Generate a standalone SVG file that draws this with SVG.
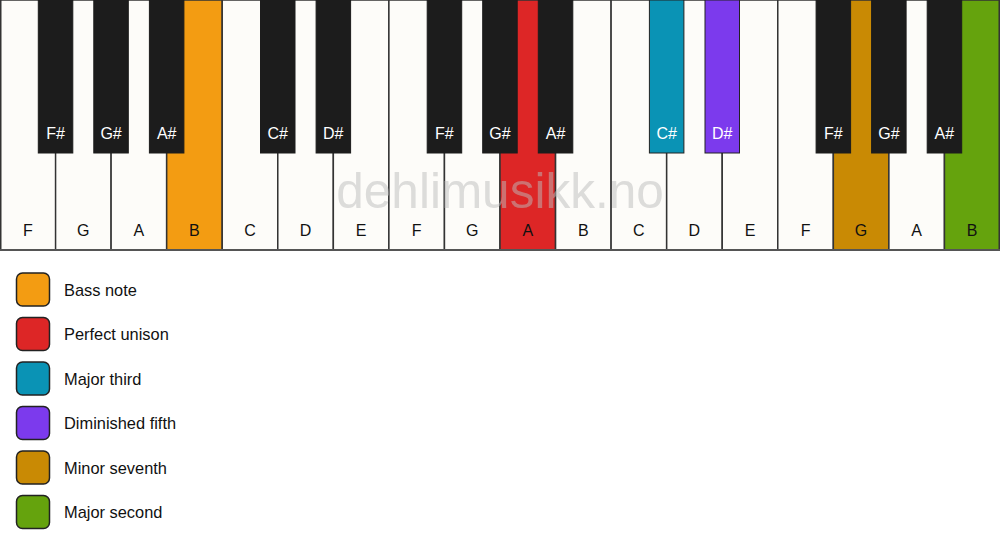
<svg xmlns="http://www.w3.org/2000/svg" width="1000" height="550" viewBox="0 0 1000 550">
<style>
.w{fill:#fdfcf9;stroke:#333;stroke-width:1.5}
.b{fill:#1c1c1c;stroke:#1c1c1c;stroke-width:1}
.t{font-family:"Liberation Sans",Arial,sans-serif;font-size:16px;text-anchor:middle}
.wt{fill:#111}
.bt{fill:#fff}
.lg{stroke:#222;stroke-width:1.5}
.lt{font-family:"Liberation Sans",Arial,sans-serif;font-size:16.4px;fill:#111}
</style>
<rect width="1000" height="550" fill="#fff"/>
<g id="white-keys">
<rect class="w" x="0.75" y="0" width="55.56" height="250"/>
<rect class="w" x="55.56" y="0" width="55.56" height="250"/>
<rect class="w" x="111.11" y="0" width="55.56" height="250"/>
<rect class="w" x="166.67" y="0" width="55.56" height="250" style="fill:#f39c12"/>
<rect class="w" x="222.22" y="0" width="55.56" height="250"/>
<rect class="w" x="277.78" y="0" width="55.56" height="250"/>
<rect class="w" x="333.33" y="0" width="55.56" height="250"/>
<rect class="w" x="388.89" y="0" width="55.56" height="250"/>
<rect class="w" x="444.44" y="0" width="55.56" height="250"/>
<rect class="w" x="500" y="0" width="55.56" height="250" style="fill:#dd2626"/>
<rect class="w" x="555.56" y="0" width="55.56" height="250"/>
<rect class="w" x="611.11" y="0" width="55.56" height="250"/>
<rect class="w" x="666.67" y="0" width="55.56" height="250"/>
<rect class="w" x="722.22" y="0" width="55.56" height="250"/>
<rect class="w" x="777.78" y="0" width="55.56" height="250"/>
<rect class="w" x="833.33" y="0" width="55.56" height="250" style="fill:#c98a04"/>
<rect class="w" x="888.89" y="0" width="55.56" height="250"/>
<rect class="w" x="944.44" y="0" width="54.8" height="250" style="fill:#65a30d"/>
<line x1="0" y1="250" x2="1000" y2="250" stroke="#555" stroke-width="2"/>
<g class="t wt">
<text x="27.8" y="236">F</text><text x="83.3" y="236">G</text><text x="138.9" y="236">A</text><text x="194.4" y="236">B</text>
<text x="250" y="236">C</text><text x="305.6" y="236">D</text><text x="361.1" y="236">E</text><text x="416.7" y="236">F</text>
<text x="472.2" y="236">G</text><text x="527.8" y="236">A</text><text x="583.3" y="236">B</text><text x="638.9" y="236">C</text>
<text x="694.4" y="236">D</text><text x="750" y="236">E</text><text x="805.6" y="236">F</text><text x="861.1" y="236">G</text>
<text x="916.7" y="236">A</text><text x="972.2" y="236">B</text>
</g>
</g>
<g id="black-keys">
<rect class="b" x="38.3" y="0" width="34.5" height="153"/>
<rect class="b" x="93.8" y="0" width="34.5" height="153"/>
<rect class="b" x="149.4" y="0" width="34.5" height="153"/>
<rect class="b" x="260.5" y="0" width="34.5" height="153"/>
<rect class="b" x="316.1" y="0" width="34.5" height="153"/>
<rect class="b" x="427.2" y="0" width="34.5" height="153"/>
<rect class="b" x="482.7" y="0" width="34.5" height="153"/>
<rect class="b" x="538.3" y="0" width="34.5" height="153"/>
<rect class="b" x="649.4" y="0" width="34.5" height="153" style="fill:#0a93b5;stroke:#222"/>
<rect class="b" x="705" y="0" width="34.5" height="153" style="fill:#7c3aed;stroke:#222"/>
<rect class="b" x="816.1" y="0" width="34.5" height="153"/>
<rect class="b" x="871.6" y="0" width="34.5" height="153"/>
<rect class="b" x="927.2" y="0" width="34.5" height="153"/>
<g class="t bt">
<text x="55.6" y="139">F#</text><text x="111.1" y="139">G#</text><text x="166.7" y="139">A#</text>
<text x="277.8" y="139">C#</text><text x="333.3" y="139">D#</text>
<text x="444.4" y="139">F#</text><text x="500" y="139">G#</text><text x="555.6" y="139">A#</text>
<text x="666.7" y="139">C#</text><text x="722.2" y="139">D#</text>
<text x="833.3" y="139">F#</text><text x="888.9" y="139">G#</text><text x="944.4" y="139">A#</text>
</g>
</g>
<text id="watermark" x="500" y="208" font-family="Liberation Sans,Arial,sans-serif" font-size="49.5" text-anchor="middle" fill="#bbbbbb" fill-opacity="0.5">dehlimusikk.no</text>
<g id="legend">
<g id="lg-bass"><rect class="lg" x="16.5" y="273" width="33" height="33" rx="6" fill="#f39c12"/><text class="lt" x="64" y="295.5">Bass note</text></g>
<g id="lg-unison"><rect class="lg" x="16.5" y="317.5" width="33" height="33" rx="6" fill="#dd2626"/><text class="lt" x="64" y="340">Perfect unison</text></g>
<g id="lg-third"><rect class="lg" x="16.5" y="362" width="33" height="33" rx="6" fill="#0a93b5"/><text class="lt" x="64" y="384.5">Major third</text></g>
<g id="lg-fifth"><rect class="lg" x="16.5" y="406.5" width="33" height="33" rx="6" fill="#7c3aed"/><text class="lt" x="64" y="429">Diminished fifth</text></g>
<g id="lg-seventh"><rect class="lg" x="16.5" y="451" width="33" height="33" rx="6" fill="#c98a04"/><text class="lt" x="64" y="473.5">Minor seventh</text></g>
<g id="lg-second"><rect class="lg" x="16.5" y="495.5" width="33" height="33" rx="6" fill="#65a30d"/><text class="lt" x="64" y="518">Major second</text></g>
</g>
</svg>
